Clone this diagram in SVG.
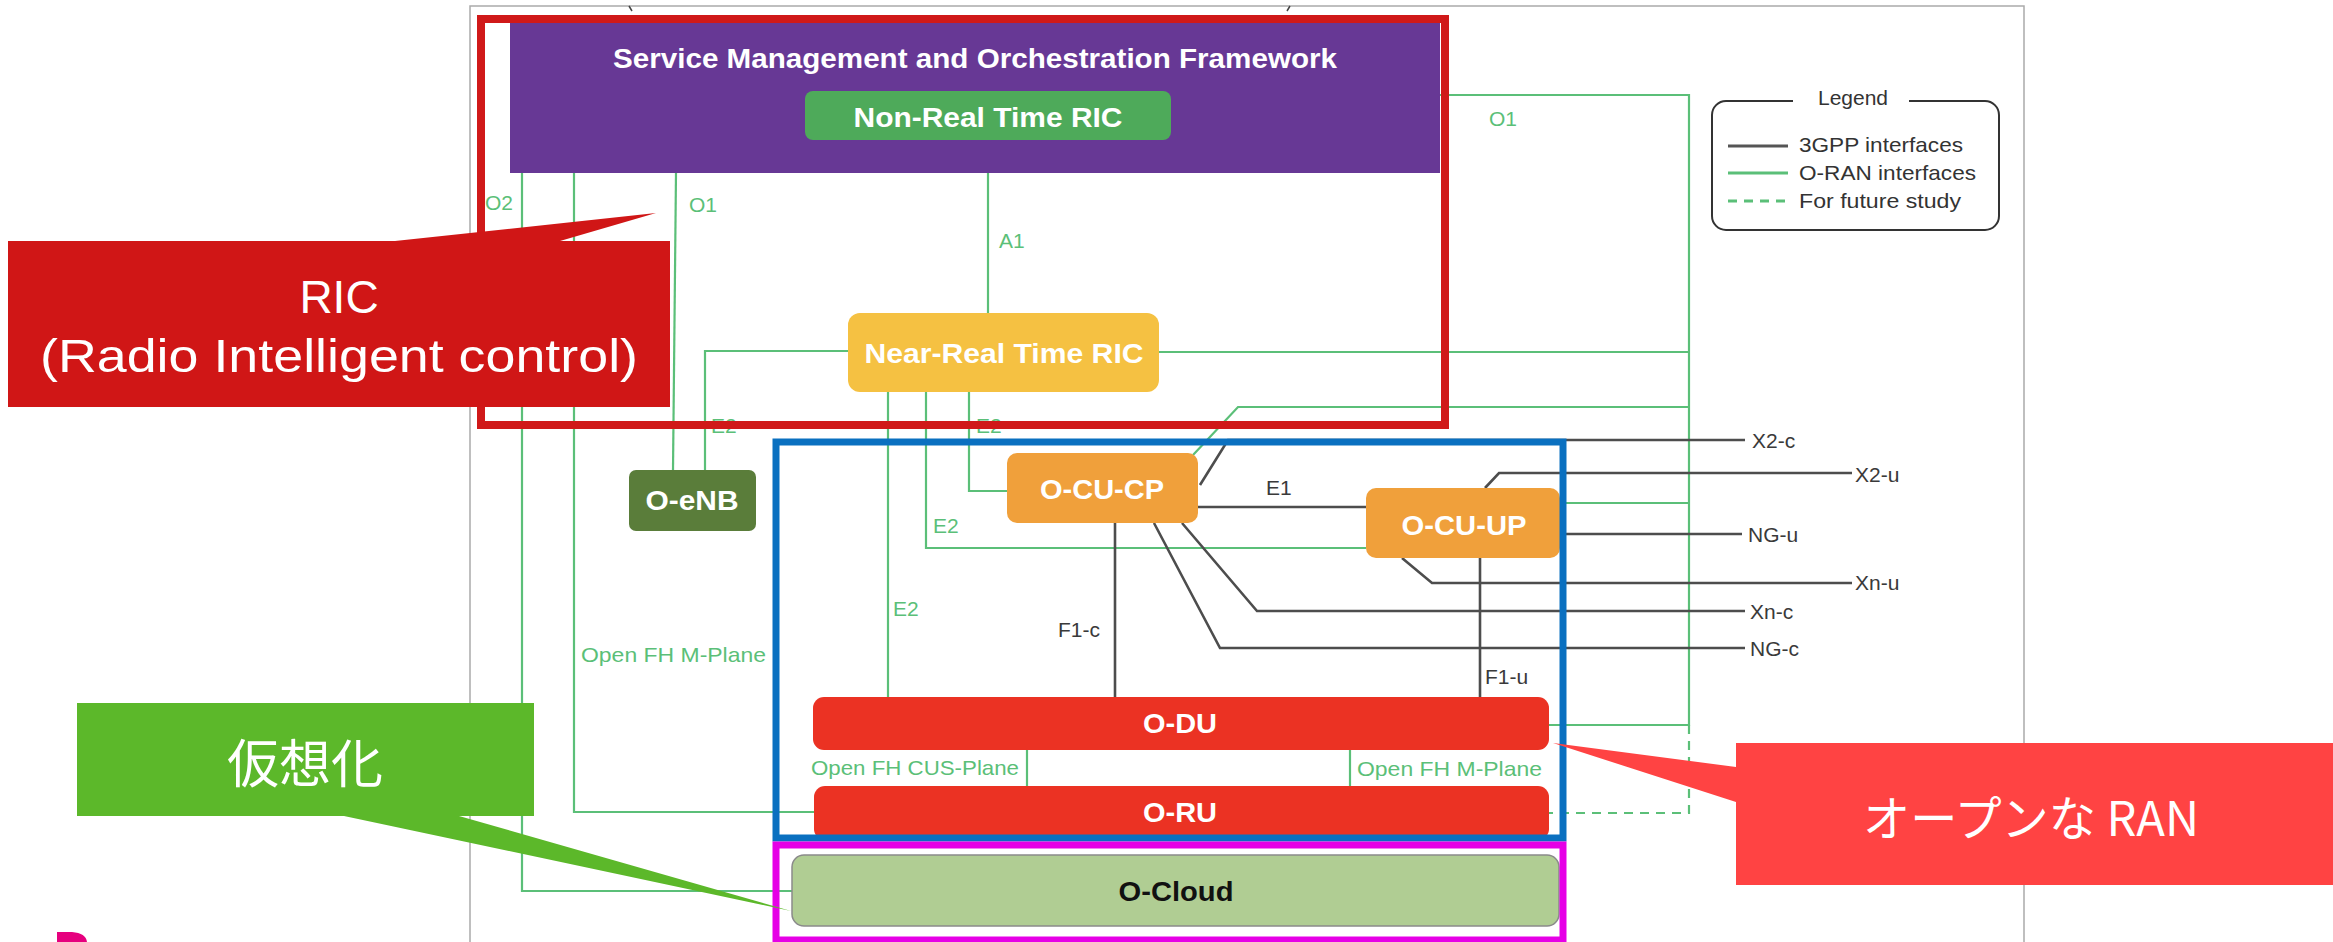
<svg xmlns="http://www.w3.org/2000/svg" width="2333" height="942" viewBox="0 0 2333 942">
<style>
.g{fill:none;stroke:#5bbf78;stroke-width:2.2}
.d{fill:none;stroke:#4d4d4d;stroke-width:2.6}
.gl{font-family:'Liberation Sans',Arial,sans-serif;font-size:21px;fill:#5bbf78}
.dl{font-family:'Liberation Sans',Arial,sans-serif;font-size:21px;fill:#3a3a3a}
.nl{font-family:'Liberation Sans',Arial,sans-serif;font-size:28px;font-weight:bold;fill:#fff;text-anchor:middle}
.lg{font-family:'Liberation Sans',Arial,sans-serif;font-size:21px;fill:#333}
.co{font-family:'Liberation Sans','Noto Sans CJK JP',sans-serif;fill:#fff;text-anchor:middle}
</style>
<rect width="2333" height="942" fill="#fff"/>
<rect x="470" y="6" width="1554" height="960" fill="none" stroke="#aaa" stroke-width="1.5"/>
<path d="M629,6 L632,11 M1290,6 L1287,11" stroke="#444" stroke-width="1.5" fill="none"/>
<path d="M57,932 H72 Q86,933 87,942 H57 Z" fill="#e6007e"/>

<g id="connectors">
<path class="g" d="M988,140 V313"/>
<path class="g" d="M676,173 L673,470"/>
<path class="g" d="M522,173 V891 H792"/>
<path class="g" d="M574,173 V812 H814"/>
<path class="g" d="M1440,95 H1689 V725 H1549"/>
<path class="g" d="M1159,352 H1689"/>
<path class="g" d="M1689,407 H1238 L1193,455"/>
<path class="g" d="M1560,503 H1689"/>
<path class="g" d="M1689,725 V813 H1549" stroke-dasharray="9,7"/>
<path class="g" d="M848,351 H705 V470"/>
<path class="g" d="M888,392 V697"/>
<path class="g" d="M926,392 V548 H1366"/>
<path class="g" d="M969,392 V491 H1007"/>
<path class="g" d="M1027,750 V786"/>
<path class="g" d="M1350,750 V786"/>
<path class="d" d="M1198,507 H1366"/>
<path class="d" d="M1200,485 L1228,440 H1745"/>
<path class="d" d="M1485,488 L1499,473 H1852"/>
<path class="d" d="M1560,534 H1742"/>
<path class="d" d="M1402,558 L1432,583 H1852"/>
<path class="d" d="M1182,523 L1257,611 H1745"/>
<path class="d" d="M1154,523 L1220,648 H1745"/>
<path class="d" d="M1115,523 V697"/>
<path class="d" d="M1480,558 V697"/>
<text class="gl" x="485" y="210">O2</text>
<text class="gl" x="689" y="212">O1</text>
<text class="gl" x="999" y="248">A1</text>
<text class="gl" x="1489" y="126">O1</text>
<text class="gl" x="711" y="433">E2</text>
<text class="gl" x="976" y="433">E2</text>
<text class="gl" x="933" y="533">E2</text>
<text class="gl" x="893" y="616">E2</text>
<text class="gl" x="581" y="662" textLength="185" lengthAdjust="spacingAndGlyphs">Open FH M-Plane</text>
<text class="gl" x="811" y="775" textLength="208" lengthAdjust="spacingAndGlyphs">Open FH CUS-Plane</text>
<text class="gl" x="1357" y="776" textLength="185" lengthAdjust="spacingAndGlyphs">Open FH M-Plane</text>
<text class="dl" x="1752" y="448">X2-c</text>
<text class="dl" x="1855" y="482">X2-u</text>
<text class="dl" x="1748" y="542">NG-u</text>
<text class="dl" x="1855" y="590">Xn-u</text>
<text class="dl" x="1750" y="619">Xn-c</text>
<text class="dl" x="1750" y="656">NG-c</text>
<text class="dl" x="1266" y="495">E1</text>
<text class="dl" x="1058" y="637">F1-c</text>
<text class="dl" x="1485" y="684">F1-u</text>
</g>

<g id="smo">
<rect x="510" y="23" width="930" height="150" fill="#673895"/>
<text class="nl" x="975" y="68" textLength="724" lengthAdjust="spacingAndGlyphs">Service Management and Orchestration Framework</text>
</g>
<g id="non-rt-ric">
<rect x="805" y="91" width="366" height="49" rx="8" fill="#4eaa5a"/>
<text class="nl" x="988" y="127" textLength="269" lengthAdjust="spacingAndGlyphs">Non-Real Time RIC</text>
</g>
<g id="near-rt-ric">
<rect x="848" y="313" width="311" height="79" rx="12" fill="#f5c142"/>
<text class="nl" x="1004" y="363" textLength="279" lengthAdjust="spacingAndGlyphs">Near-Real Time RIC</text>
</g>
<g id="o-enb">
<rect x="629" y="470" width="127" height="61" rx="7" fill="#5a7d3a"/>
<text class="nl" x="692" y="510" textLength="93" lengthAdjust="spacingAndGlyphs">O-eNB</text>
</g>
<g id="o-cu-cp">
<rect x="1007" y="453" width="191" height="70" rx="10" fill="#f0a03b"/>
<text class="nl" x="1102" y="499" textLength="124" lengthAdjust="spacingAndGlyphs">O-CU-CP</text>
</g>
<g id="o-cu-up">
<rect x="1366" y="488" width="194" height="70" rx="10" fill="#f0a03b"/>
<text class="nl" x="1464" y="535" textLength="125" lengthAdjust="spacingAndGlyphs">O-CU-UP</text>
</g>
<g id="o-du">
<rect x="813" y="697" width="736" height="53" rx="11" fill="#eb3223"/>
<text class="nl" x="1180" y="733" textLength="74" lengthAdjust="spacingAndGlyphs">O-DU</text>
</g>
<g id="o-ru">
<rect x="814" y="786" width="735" height="54" rx="11" fill="#eb3223"/>
<text class="nl" x="1180" y="822" textLength="74" lengthAdjust="spacingAndGlyphs">O-RU</text>
</g>
<g id="o-cloud">
<rect x="792" y="855" width="767" height="71" rx="12" fill="#b0cd93" stroke="#8a8a8a" stroke-width="1.5"/>
<text class="nl" x="1176" y="901" style="fill:#111" textLength="115" lengthAdjust="spacingAndGlyphs">O-Cloud</text>
</g>

<g id="legend">
<path d="M1793,101 H1726 A14,14 0 0 0 1712,115 V216 A14,14 0 0 0 1726,230 H1985 A14,14 0 0 0 1999,216 V115 A14,14 0 0 0 1985,101 H1909" fill="none" stroke="#333" stroke-width="2"/>
<text class="lg" x="1853" y="105" text-anchor="middle">Legend</text>
<path d="M1728,146 H1788" stroke="#555" stroke-width="3"/>
<text class="lg" x="1799" y="152" textLength="164" lengthAdjust="spacingAndGlyphs">3GPP interfaces</text>
<path d="M1728,173 H1788" stroke="#5bbf78" stroke-width="3"/>
<text class="lg" x="1799" y="180" textLength="177" lengthAdjust="spacingAndGlyphs">O-RAN interfaces</text>
<path d="M1728,201 H1788" stroke="#5bbf78" stroke-width="3" stroke-dasharray="9,7"/>
<text class="lg" x="1799" y="208" textLength="162" lengthAdjust="spacingAndGlyphs">For future study</text>
</g>

<g id="frames" fill="none">
<rect x="481" y="19" width="964" height="406" stroke="#d01919" stroke-width="8"/>
<rect x="776" y="442" width="787" height="396" stroke="#0a70c0" stroke-width="7"/>
<rect x="776" y="845" width="787" height="95" stroke="#e600e6" stroke-width="7"/>
</g>

<g id="callout-ric">
<path d="M8,241 H395 L656,213 L560,241 H670 V407 H8 Z" fill="#d01616"/>
<text class="co" x="339" y="313" font-size="46">RIC</text>
<text class="co" x="339" y="372" font-size="46" textLength="598" lengthAdjust="spacingAndGlyphs">(Radio Intelligent control)</text>
</g>
<g id="callout-virtual">
<path d="M77,703 H534 V816 H459 L791,911 L344,816 H77 Z" fill="#5cb82a"/>
<text class="co" x="305" y="783" font-size="52" style="font-family:'Noto Sans CJK JP',sans-serif">仮想化</text>
</g>
<g id="callout-open-ran">
<path d="M1736,743 H2333 V885 H1736 V802 L1553,743 L1736,767 Z" fill="#ff4343"/>
<text class="co" x="2031" y="836" font-size="48" textLength="336" lengthAdjust="spacingAndGlyphs" style="font-family:'Noto Sans CJK JP',sans-serif">オープンな RAN</text>
</g>
</svg>
